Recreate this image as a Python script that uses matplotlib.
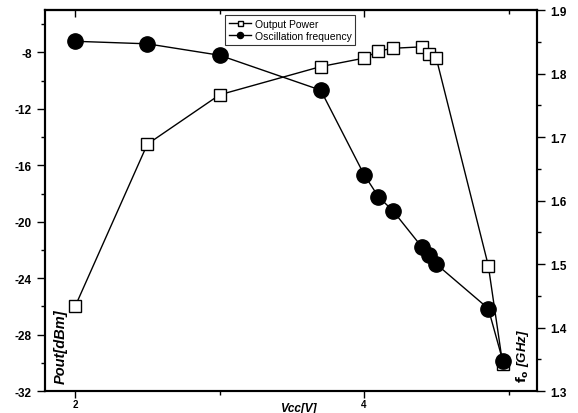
import matplotlib.pyplot as plt
from matplotlib.ticker import MultipleLocator, FixedLocator

plt.rcParams['font.family'] = ['Liberation Sans', 'DejaVu Sans']
plt.rcParams['font.weight'] = 'bold'

# supply voltage sweep
vcc = [2.0, 2.5, 3.0, 3.7, 4.0, 4.1, 4.2, 4.4, 4.45, 4.5, 4.86, 4.96]
# output power in dBm
pout = [-26.0, -14.5, -11.0, -9.0, -8.4, -7.9, -7.7, -7.6, -8.1, -8.4, -23.1, -30.1]
# oscillation frequency in GHz
fosc = [1.851, 1.847, 1.829, 1.774, 1.641, 1.606, 1.584, 1.527, 1.515, 1.500, 1.430, 1.348]

fig = plt.figure(figsize=(5.78, 4.14), dpi=100)
ax = fig.add_axes([0.078, 0.053, 0.851, 0.920])
ax2 = ax.twinx()

l1, = ax.plot(vcc, pout, color='black', lw=1.0, marker='s', ms=9,
              mfc='white', mec='black', mew=1.0, label='Output Power', zorder=3)
l2, = ax2.plot(vcc, fosc, color='black', lw=1.0, marker='o', ms=11,
               mfc='black', mec='black', label='Oscillation frequency', zorder=3)

ax.set_xlim(1.792, 5.197)
ax.set_ylim(-32, -5)
ax2.set_ylim(1.3, 1.9)

ax.xaxis.set_major_locator(FixedLocator([2, 4]))
ax.xaxis.set_minor_locator(FixedLocator([3, 5]))
ax.yaxis.set_major_locator(MultipleLocator(4))
ax.yaxis.set_minor_locator(MultipleLocator(2))
ax2.yaxis.set_major_locator(MultipleLocator(0.1))
ax2.yaxis.set_minor_locator(MultipleLocator(0.05))

ax.tick_params(axis='x', which='both', direction='out', labelsize=7, pad=1)
ax.tick_params(axis='x', which='major', length=5, width=1.0)
ax.tick_params(axis='x', which='minor', length=3, width=1.0)
ax.tick_params(axis='y', which='major', direction='out', length=6, width=1.0, labelsize=8.5)
ax.tick_params(axis='y', which='minor', direction='out', length=3, width=1.0)
ax2.tick_params(axis='y', which='major', direction='out', length=6, width=1.0, labelsize=8.5)
ax2.tick_params(axis='y', which='minor', direction='out', length=3, width=1.0)
ax.set_yticklabels([f'{int(v)}' for v in ax.get_yticks()])
ax2.set_yticklabels([f'{v:.1f}' for v in ax2.get_yticks()])

# inward ticks along the top edge
top = ax.secondary_xaxis('top')
top.xaxis.set_major_locator(FixedLocator([2, 4]))
top.xaxis.set_minor_locator(FixedLocator([3, 5]))
top.tick_params(axis='x', which='major', direction='in', length=5, width=1.0, labeltop=False)
top.tick_params(axis='x', which='minor', direction='in', length=3, width=1.0)
top.spines['top'].set_linewidth(1.5)

for sp in list(ax.spines.values()) + list(ax2.spines.values()):
    sp.set_linewidth(1.5)

ax.text(0.017, 0.022, 'Pout[dBm]', transform=ax.transAxes, rotation=90,
        fontsize=10.5, fontweight='bold', fontstyle='italic', ha='left', va='bottom')
ax2.text(0.987, 0.025, r'$\mathbf{f_o}$ [GHz]', transform=ax2.transAxes, rotation=90,
         fontsize=9.5, fontweight='bold', fontstyle='italic', ha='right', va='bottom')
ax.text(0.515, -0.028, 'Vcc[V]', transform=ax.transAxes, fontsize=8.5,
        fontweight='bold', fontstyle='italic', ha='center', va='top')

leg = ax.legend(handles=[l1, l2], loc='upper center', bbox_to_anchor=(0.498, 1.0),
                fontsize=7.5, frameon=True, fancybox=False, edgecolor='black',
                handlelength=2.2, markerscale=0.4, borderpad=0.35, labelspacing=0.2,
                handletextpad=0.3)
leg.get_frame().set_linewidth(0.8)
for t in leg.get_texts():
    t.set_fontweight('normal')
leg.set_zorder(5)

fig.savefig('out.png', dpi=100)
